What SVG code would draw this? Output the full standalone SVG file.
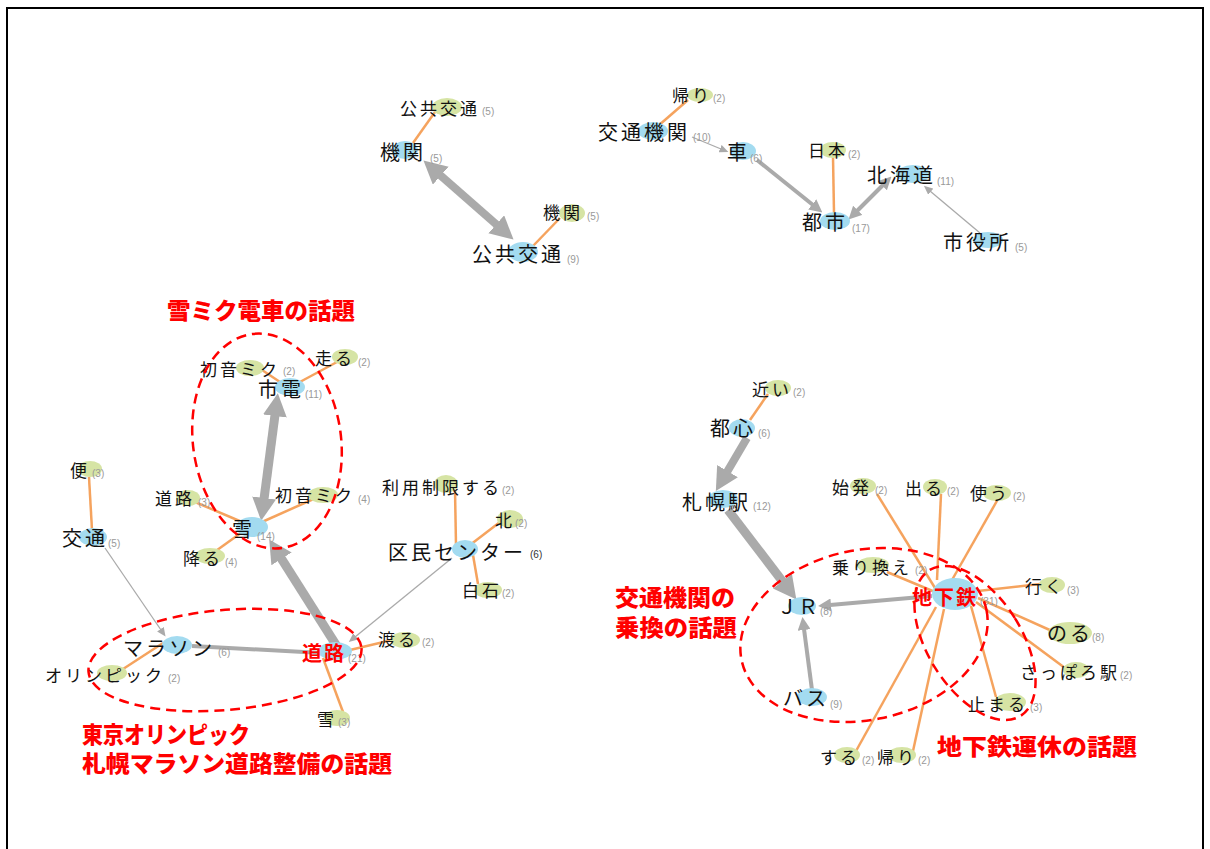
<svg xmlns="http://www.w3.org/2000/svg" width="1210" height="849" viewBox="0 0 1210 849">
<defs>
<style>
.bl{fill:#a3dbf0}
.gr{fill:#d6e4a4}
.o{stroke:#f5a35e;stroke-width:2.5;fill:none}
.g{stroke:#aaaaaa;fill:none}
.t{font-family:"Noto Sans CJK JP","Noto Sans",sans-serif;fill:#111}
.tb{font-size:20px;letter-spacing:3px}
.tg{font-size:17px;letter-spacing:3px}
.tr{font-family:"Noto Sans CJK JP","Noto Sans",sans-serif;font-weight:bold;fill:#ff0000;font-size:20px;letter-spacing:2px}
.c{font-family:"Liberation Sans",Arial,sans-serif;font-size:10px;fill:#999}
.h{font-family:"Noto Sans CJK JP","Noto Sans",sans-serif;font-weight:900;fill:#ff0000;font-size:23px}
.d{fill:none;stroke:#ff0000;stroke-width:2.5;stroke-dasharray:10 6}
</style>
<marker id="aL" markerUnits="userSpaceOnUse" markerWidth="24" markerHeight="24" viewBox="0 0 24 24" refX="1" refY="12" orient="auto-start-reverse"><path d="M0,0 L23,12 L0,24 z" fill="#aaaaaa"/></marker>
<marker id="aM" markerUnits="userSpaceOnUse" markerWidth="13" markerHeight="13" viewBox="0 0 13 13" refX="1" refY="6.5" orient="auto-start-reverse"><path d="M0,0 L13,6.5 L0,13 z" fill="#aaaaaa"/></marker>
<marker id="aS" markerUnits="userSpaceOnUse" markerWidth="9" markerHeight="8" viewBox="0 0 9 8" refX="1" refY="4" orient="auto-start-reverse"><path d="M0,0 L9,4 L0,8 z" fill="#aaaaaa"/></marker>
</defs>
<rect x="7" y="8" width="1196" height="860" fill="#ffffff" stroke="#000" stroke-width="2"/>

<g id="connectors">
<line class="o" x1="413" y1="143" x2="435" y2="112"/>
<line class="o" x1="533" y1="246" x2="560" y2="218"/>
<line class="o" x1="658" y1="126" x2="688" y2="100"/>
<line class="o" x1="833" y1="157" x2="834" y2="213"/>
<line class="o" x1="262" y1="370" x2="283" y2="384"/>
<line class="o" x1="337" y1="362" x2="298" y2="383"/>
<line class="o" x1="195" y1="502" x2="242" y2="522"/>
<line class="o" x1="318" y1="497" x2="262" y2="522"/>
<line class="o" x1="213" y1="553" x2="245" y2="530"/>
<line class="o" x1="89" y1="477" x2="92" y2="530"/>
<line class="o" x1="455" y1="490" x2="456" y2="545"/>
<line class="o" x1="500" y1="522" x2="470" y2="545"/>
<line class="o" x1="478" y1="584" x2="473" y2="555"/>
<line class="o" x1="120" y1="671" x2="163" y2="643"/>
<line class="o" x1="350" y1="650" x2="392" y2="640"/>
<line class="o" x1="323" y1="658" x2="343" y2="712"/>
<line class="o" x1="750" y1="420" x2="768" y2="394"/>
<line class="o" x1="877" y1="494" x2="935" y2="588"/>
<line class="o" x1="941" y1="494" x2="937" y2="580"/>
<line class="o" x1="998" y1="499" x2="952" y2="580"/>
<line class="o" x1="887" y1="572" x2="935" y2="592"/>
<line class="o" x1="978" y1="591" x2="1040" y2="584"/>
<line class="o" x1="978" y1="598" x2="1052" y2="631"/>
<line class="o" x1="976" y1="602" x2="1065" y2="668"/>
<line class="o" x1="971" y1="606" x2="996" y2="697"/>
<line class="o" x1="936" y1="607" x2="856" y2="751"/>
<line class="o" x1="944" y1="609" x2="913" y2="751"/>
<line class="g" stroke-width="8" x1="440" y1="175" x2="497" y2="225" marker-start="url(#aL)" marker-end="url(#aL)"/>
<line class="g" stroke-width="9" x1="275" y1="415" x2="264" y2="499" marker-start="url(#aL)" marker-end="url(#aL)"/>
<line class="g" stroke-width="9" x1="338" y1="648" x2="281" y2="558" marker-end="url(#aL)"/>
<line class="g" stroke-width="8" x1="747" y1="438" x2="727" y2="472" marker-end="url(#aL)"/>
<line class="g" stroke-width="9" x1="728" y1="510" x2="783" y2="582" marker-end="url(#aL)"/>
<line class="g" stroke-width="4" x1="757" y1="160" x2="813" y2="205" marker-end="url(#aM)"/>
<line class="g" stroke-width="4" x1="857" y1="211" x2="883" y2="185" marker-start="url(#aM)" marker-end="url(#aM)"/>
<line class="g" stroke-width="1.3" x1="692" y1="137" x2="721" y2="149" marker-end="url(#aS)"/>
<line class="g" stroke-width="1.3" x1="980" y1="233" x2="930" y2="191" marker-end="url(#aS)"/>
<line class="g" stroke-width="1.3" x1="452" y1="558" x2="355" y2="637" marker-end="url(#aS)"/>
<line class="g" stroke-width="1.3" x1="105" y1="548" x2="161" y2="630" marker-end="url(#aS)"/>
<line class="g" stroke-width="4" x1="192" y1="646" x2="322" y2="653"/>
<line class="g" stroke-width="4" x1="932" y1="596" x2="830" y2="605" marker-end="url(#aM)"/>
<line class="g" stroke-width="4" x1="812" y1="690" x2="804" y2="629" marker-end="url(#aM)"/>
</g>

<g id="n-koukyoukoutsuu-g"><ellipse class="gr" cx="447" cy="107" rx="15" ry="9"/><text class="t tg" x="400" y="115">公共交通</text><text class="c" x="482" y="115">(5)</text></g>
<g id="n-kikan-b"><ellipse class="bl" cx="405" cy="150" rx="13" ry="9"/><text class="t tb" x="380" y="160">機関</text><text class="c" x="430" y="162">(5)</text></g>
<g id="n-kikan-g"><ellipse class="gr" cx="572" cy="213" rx="13" ry="9"/><text class="t tg" x="543" y="219">機関</text><text class="c" x="587" y="220">(5)</text></g>
<g id="n-koukyoukoutsuu-b"><ellipse class="bl" cx="523" cy="252" rx="15" ry="10"/><text class="t tb" x="472" y="262">公共交通</text><text class="c" x="567" y="263">(9)</text></g>

<g id="n-kaeri1"><ellipse class="gr" cx="700" cy="95" rx="13" ry="7"/><text class="t tg" x="672" y="102">帰り</text><text class="c" x="713" y="102">(2)</text></g>
<g id="n-koutsuukikan"><ellipse class="bl" cx="653" cy="131" rx="15" ry="9"/><text class="t tb" x="598" y="140">交通機関</text><text class="c" x="693" y="141">(10)</text></g>
<g id="n-kuruma"><ellipse class="bl" cx="743" cy="151" rx="13" ry="9"/><text class="t tb" x="727" y="160">車</text><text class="c" x="750" y="162">(6)</text></g>
<g id="n-nihon"><ellipse class="gr" cx="833" cy="150" rx="13" ry="8"/><text class="t tg" x="808" y="157">日本</text><text class="c" x="848" y="158">(2)</text></g>
<g id="n-toshi"><ellipse class="bl" cx="835" cy="221" rx="15" ry="9"/><text class="t tb" x="802" y="230">都市</text><text class="c" x="852" y="232">(17)</text></g>
<g id="n-hokkaido"><ellipse class="bl" cx="913" cy="174" rx="17" ry="9"/><text class="t tb" x="867" y="183">北海道</text><text class="c" x="937" y="185">(11)</text></g>
<g id="n-shiyakusho"><ellipse class="bl" cx="988" cy="240" rx="15" ry="8"/><text class="t tb" x="943" y="250">市役所</text><text class="c" x="1015" y="251">(5)</text></g>

<g id="n-hatsune2"><ellipse class="gr" cx="250" cy="368" rx="14" ry="8"/><text class="t tg" x="200" y="376">初音ミク</text><text class="c" x="283" y="375">(2)</text></g>
<g id="n-hashiru"><ellipse class="gr" cx="345" cy="357" rx="13" ry="8"/><text class="t tg" x="315" y="365">走る</text><text class="c" x="358" y="366">(2)</text></g>
<g id="n-shiden"><ellipse class="bl" cx="290" cy="387" rx="15" ry="9"/><text class="t tb" x="258" y="397">市電</text><text class="c" x="305" y="398">(11)</text></g>
<g id="n-douro3"><ellipse class="gr" cx="188" cy="498" rx="12" ry="8"/><text class="t tg" x="155" y="505">道路</text><text class="c" x="198" y="506">(3)</text></g>
<g id="n-hatsune4"><ellipse class="gr" cx="323" cy="495" rx="15" ry="8"/><text class="t tg" x="275" y="502">初音ミク</text><text class="c" x="358" y="503">(4)</text></g>
<g id="n-yuki14"><ellipse class="bl" cx="252" cy="527" rx="16" ry="10"/><text class="t tb" x="232" y="537">雪</text><text class="c" x="257" y="540">(14)</text></g>
<g id="n-furu"><ellipse class="gr" cx="210" cy="556" rx="15" ry="8"/><text class="t tg" x="183" y="565">降る</text><text class="c" x="225" y="566">(4)</text></g>
<g id="n-riyou"><ellipse class="gr" cx="446" cy="484" rx="12" ry="9"/><text class="t tg" x="382" y="494">利用制限する</text><text class="c" x="502" y="494">(2)</text></g>
<g id="n-kita"><ellipse class="gr" cx="510" cy="519" rx="13" ry="9"/><text class="t tg" x="495" y="527">北</text><text class="c" x="515" y="527">(2)</text></g>
<g id="n-kumin"><ellipse class="bl" cx="465" cy="549" rx="13" ry="9"/><text class="t tb" x="388" y="560">区民センター</text><text class="c" x="530" y="558" style="fill:#333">(6)</text></g>
<g id="n-shiroishi"><ellipse class="gr" cx="488" cy="590" rx="14" ry="8"/><text class="t tg" x="462" y="597">白石</text><text class="c" x="502" y="597">(2)</text></g>
<g id="n-bin"><ellipse class="gr" cx="90" cy="469" rx="12" ry="8"/><text class="t tg" x="70" y="477">便</text><text class="c" x="92" y="477">(3)</text></g>
<g id="n-koutsuu"><ellipse class="bl" cx="93" cy="537" rx="14" ry="9"/><text class="t tb" x="62" y="546">交通</text><text class="c" x="108" y="547">(5)</text></g>

<g id="n-marathon"><ellipse class="bl" cx="177" cy="645" rx="15" ry="9"/><text class="t tb" x="123" y="656">マラソン</text><text class="c" x="218" y="656">(6)</text></g>
<g id="n-olympic"><ellipse class="gr" cx="112" cy="673" rx="15" ry="8"/><text class="t tg" x="45" y="682">オリンピック</text><text class="c" x="168" y="682">(2)</text></g>
<g id="n-douro21"><ellipse class="bl" cx="335" cy="651" rx="17" ry="9"/><text class="tr" x="302" y="661">道路</text><text class="c" x="348" y="662">(21)</text></g>
<g id="n-wataru"><ellipse class="gr" cx="405" cy="640" rx="15" ry="8"/><text class="t tg" x="378" y="646">渡る</text><text class="c" x="422" y="646">(2)</text></g>
<g id="n-yuki3"><ellipse class="gr" cx="337" cy="718" rx="13" ry="8"/><text class="t tg" x="317" y="726">雪</text><text class="c" x="338" y="726">(3)</text></g>

<g id="n-chikai"><ellipse class="gr" cx="778" cy="388" rx="13" ry="8"/><text class="t tg" x="752" y="396">近い</text><text class="c" x="793" y="396">(2)</text></g>
<g id="n-toshin"><ellipse class="bl" cx="742" cy="428" rx="13" ry="9"/><text class="t tb" x="710" y="436">都心</text><text class="c" x="758" y="437">(6)</text></g>
<g id="n-sapporoeki"><ellipse class="bl" cx="723" cy="499" rx="15" ry="9"/><text class="t tb" x="682" y="510">札幌駅</text><text class="c" x="753" y="510">(12)</text></g>
<g id="n-shihatsu"><ellipse class="gr" cx="863" cy="486" rx="13" ry="8"/><text class="t tg" x="832" y="494">始発</text><text class="c" x="875" y="494">(2)</text></g>
<g id="n-deru"><ellipse class="gr" cx="935" cy="487" rx="12" ry="8"/><text class="t tg" x="905" y="495">出る</text><text class="c" x="947" y="495">(2)</text></g>
<g id="n-tsukau"><ellipse class="gr" cx="997" cy="493" rx="14" ry="8"/><text class="t tg" x="970" y="500">使う</text><text class="c" x="1013" y="500">(2)</text></g>
<g id="n-norikae"><ellipse class="gr" cx="873" cy="565" rx="16" ry="8"/><text class="t tg" x="832" y="574">乗り換え</text><text class="c" x="915" y="574">(2)</text></g>
<g id="n-chikatetsu"><ellipse class="bl" cx="955" cy="594" rx="23" ry="16"/><text class="tr" x="912" y="605">地下鉄</text><text class="c" x="980" y="605">(31)</text></g>
<g id="n-jr"><ellipse class="bl" cx="802" cy="606" rx="14" ry="9"/><text class="t tb" x="777" y="614" style="letter-spacing:1px">ＪＲ</text><text class="c" x="820" y="615">(8)</text></g>
<g id="n-bus"><ellipse class="bl" cx="812" cy="697" rx="15" ry="9"/><text class="t tb" x="783" y="706">バス</text><text class="c" x="830" y="708">(9)</text></g>
<g id="n-iku"><ellipse class="gr" cx="1052" cy="585" rx="13" ry="8"/><text class="t tg" x="1025" y="593">行く</text><text class="c" x="1067" y="594">(3)</text></g>
<g id="n-noru"><ellipse class="gr" cx="1070" cy="633" rx="22" ry="11"/><text class="t tb" x="1047" y="641">のる</text><text class="c" x="1092" y="641">(8)</text></g>
<g id="n-sapporo"><ellipse class="gr" cx="1076" cy="670" rx="13" ry="8"/><text class="t tg" x="1020" y="679">さっぽろ駅</text><text class="c" x="1120" y="679">(2)</text></g>
<g id="n-tomaru"><ellipse class="gr" cx="1010" cy="702" rx="16" ry="9"/><text class="t tg" x="968" y="711">止まる</text><text class="c" x="1030" y="711">(3)</text></g>
<g id="n-suru"><ellipse class="gr" cx="847" cy="755" rx="13" ry="8"/><text class="t tg" x="820" y="764">する</text><text class="c" x="862" y="764">(2)</text></g>
<g id="n-kaeri2"><ellipse class="gr" cx="902" cy="755" rx="14" ry="8"/><text class="t tg" x="877" y="764">帰り</text><text class="c" x="918" y="764">(2)</text></g>

<g id="topics">
<ellipse class="d" cx="267" cy="441" rx="74" ry="108" transform="rotate(-8 267 441)"/>
<ellipse class="d" cx="225" cy="660" rx="137" ry="50" transform="rotate(-5 225 660)"/>
<ellipse class="d" cx="864" cy="635" rx="125" ry="85" transform="rotate(-11.5 864 635)"/>
<ellipse class="d" cx="975" cy="643" rx="47" ry="86" transform="rotate(-32 975 643)"/>
<text class="h" x="167" y="319" textLength="188" lengthAdjust="spacingAndGlyphs">雪ミク電車の話題</text>
<text class="h" x="82" y="743" textLength="168" lengthAdjust="spacingAndGlyphs">東京オリンピック</text>
<text class="h" x="82" y="772" textLength="310" lengthAdjust="spacingAndGlyphs">札幌マラソン道路整備の話題</text>
<text class="h" x="615" y="606" textLength="120" lengthAdjust="spacingAndGlyphs">交通機関の</text>
<text class="h" x="615" y="636" textLength="122" lengthAdjust="spacingAndGlyphs">乗換の話題</text>
<text class="h" x="937" y="755" textLength="200" lengthAdjust="spacingAndGlyphs">地下鉄運休の話題</text>
</g>
</svg>
